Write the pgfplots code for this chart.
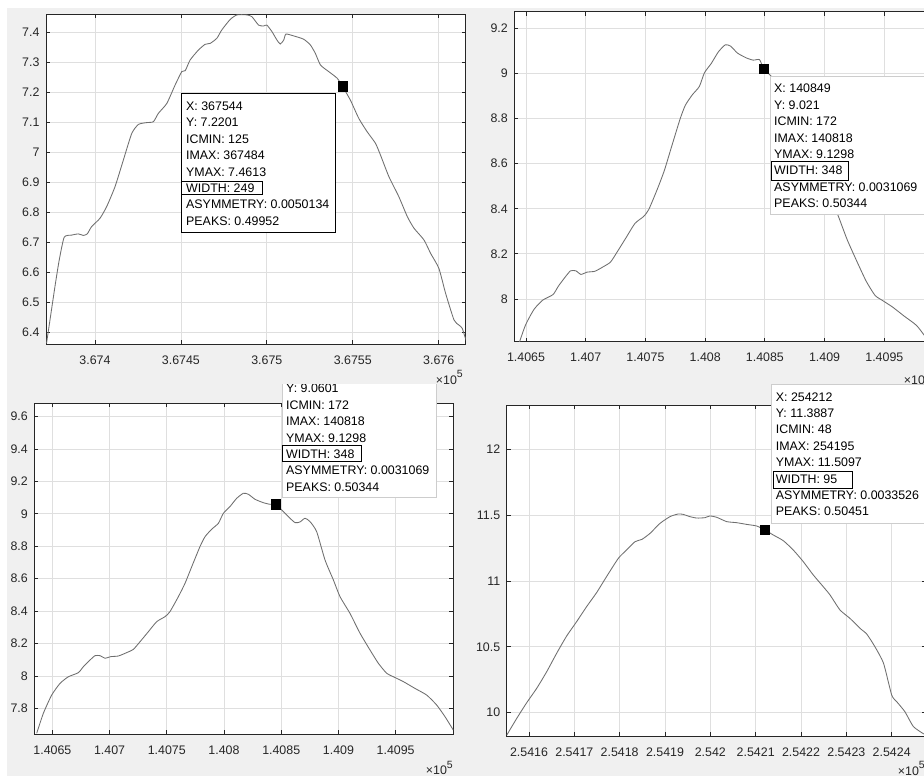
\documentclass[border=0pt]{standalone}
\usepackage{fontspec}
\setmainfont{Liberation Sans}
\usepackage{pgfplots}
\pgfplotsset{compat=1.18}
\definecolor{bgc}{RGB}{240,240,240}
\definecolor{axc}{RGB}{38,38,38}
\definecolor{grc}{RGB}{223,223,223}
\definecolor{lnc}{RGB}{110,110,110}
\definecolor{tipb}{RGB}{205,205,205}
\newcommand\ticfont{\fontsize{12.4}{14}\selectfont}
\newcommand\expo{×10\raisebox{6.5pt}{\fontsize{10.5}{10.5}\selectfont 5}}
\pgfplotsset{mat/.style={scale only axis, anchor=north west,
  axis background/.style={fill=white},
  axis line style={draw=axc, line width=0.8pt},
  grid=major, major grid style={draw=grc, line width=0.8pt},
  tick align=inside, major tick length=4pt,
  every tick/.style={draw=axc, line width=0.8pt},
  tick label style={font=\ticfont, text=axc},
  xticklabel style={yshift=-8pt}, yticklabel style={xshift=-3pt},
  scaled x ticks=false, scaled y ticks=false,
  /pgf/number format/assume math mode=true,
  clip=true},
  crv/.style={draw=lnc, line width=0.85pt, no marks, smooth, tension=0.35},
  tipm/.style={only marks, mark=square*, mark size=4.6pt, mark options={fill=black, draw=black}}}
\tikzset{tip/.style={anchor=base west, inner sep=0pt, font=\ticfont, text=black}}
\newcommand\tipbox[9]{%
  \node[tip] at (#1pt,-#2pt) {#3};
  \node[tip] at (#1pt,-#2pt-16.4pt) {#4};
  \node[tip] at (#1pt,-#2pt-32.8pt) {#5};
  \node[tip] at (#1pt,-#2pt-49.2pt) {#6};
  \node[tip] at (#1pt,-#2pt-65.6pt) {#7};
  \node[tip] at (#1pt,-#2pt-82pt) {#8};
  \node[tip] at (#1pt,-#2pt-98.4pt) {#9};}
\begin{document}
\begin{tikzpicture}
\useasboundingbox (0pt,0pt) rectangle (924pt,-776pt);
\clip (0pt,0pt) rectangle (924pt,-776pt);
\fill[white] (0pt,0pt) rectangle (924pt,-776pt);
\fill[bgc] (7pt,-8pt) rectangle (924pt,-776pt);

% ---------------- panel 1 ----------------
\begin{axis}[mat, at={(46pt,-14pt)}, width=419.7pt, height=330pt,
  xmin=367371.5, xmax=367615.7, ymin=6.361, ymax=7.461,
  xtick={367400,367450,367500,367550,367600},
  xticklabels={3.674,3.6745,3.675,3.6755,3.676},
  ytick={6.4,6.5,6.6,6.7,6.8,6.9,7,7.1,7.2,7.3,7.4},
  yticklabels={6.4,6.5,6.6,6.7,6.8,6.9,7,7.1,7.2,7.3,7.4}]
\addplot[crv] coordinates {
(367371.8,6.363)(367376.7,6.552)(367379.2,6.641)(367382.1,6.717)(367386.4,6.724)
(367390.3,6.728)(367393.2,6.723)(367395.5,6.728)(367398,6.752)(367402.9,6.780)
(367406.8,6.819)(367411.7,6.886)(367416.5,6.974)(367421.4,7.063)(367425.3,7.093)
(367430.1,7.099)(367434,7.102)(367436.9,7.130)(367441.8,7.163)(367446.6,7.224)
(367450.5,7.269)(367452.5,7.272)(367455.4,7.308)(367460.2,7.341)(367464.1,7.360)
(367467,7.363)(367470.9,7.380)(367473.8,7.408)(367478.7,7.443)(367482.6,7.458)
(367488.4,7.458)(367491.3,7.452)(367495.2,7.424)(367498.1,7.421)(367500,7.424)
(367503,7.402)(367505.9,7.374)(367507.8,7.361)(367509.8,7.374)(367511.1,7.394)
(367515.6,7.388)(367521.4,7.377)(367525.3,7.358)(367528.2,7.330)(367531.2,7.291)
(367536,7.269)(367540.9,7.247)(367544,7.2201)(367548.6,7.174)(367553.5,7.113)
(367558.3,7.069)(367563.2,7.030)(367566.1,6.991)(367571,6.919)(367576.8,6.852)
(367581.7,6.786)(367585.6,6.747)(367591.4,6.708)(367595.3,6.663)(367600.1,6.613)
(367604,6.530)(367608.9,6.441)(367611.8,6.424)(367613.7,6.413)(367616.1,6.369)};
\addplot[tipm] coordinates {(367544,7.2201)};
\end{axis}

% ---------------- panel 2 ----------------
\begin{axis}[mat, at={(514.3pt,-11.7pt)}, width=419pt, height=330pt,
  xmin=140640.2, xmax=140991, ymin=7.8107, ymax=9.2737,
  xtick={140650,140700,140750,140800,140850,140900,140950},
  xticklabels={1.4065,1.407,1.4075,1.408,1.4085,1.409,1.4095},
  ytick={8,8.2,8.4,8.6,8.8,9,9.2},
  yticklabels={8,8.2,8.4,8.6,8.8,9,9.2}]
\addplot[crv] coordinates {
(140636.3,7.646)(140642.1,7.769)(140649.4,7.882)(140656.7,7.954)(140664,7.995)
(140672.7,8.020)(140677.1,8.057)(140682.9,8.098)(140687.3,8.125)(140691.7,8.125)
(140696,8.109)(140701,8.119)(140707.7,8.123)(140715,8.144)(140720.8,8.164)
(140726.6,8.211)(140733.9,8.273)(140741.2,8.335)(140748.5,8.366)(140752.8,8.397)
(140760.1,8.489)(140765.9,8.571)(140771.8,8.674)(140779,8.798)(140783.4,8.859)
(140789.2,8.905)(140795.1,8.942)(140799.4,9.003)(140805.2,9.045)(140811.1,9.096)
(140816.9,9.127)(140821.3,9.121)(140827.1,9.090)(140834.4,9.069)(140840.2,9.059)
(140845.5,9.061)(140849,9.021)(140856.2,8.983)(140862.1,8.946)(140866.4,8.950)
(140870.8,8.973)(140875.2,8.952)(140881,8.890)(140888.3,8.715)(140895.6,8.592)
(140901.4,8.489)(140910.1,8.386)(140918.9,8.263)(140927.6,8.160)(140934.9,8.078)
(140942.2,8.016)(140948,7.995)(140956.7,7.965)(140966.9,7.923)(140977.1,7.882)
(140985.8,7.821)(140993.1,7.749)(141000.4,7.666)};
\addplot[tipm] coordinates {(140849,9.021)};
\end{axis}

% ---------------- panel 3 ----------------
\begin{axis}[mat, at={(34.3pt,-403.3pt)}, width=419pt, height=330.7pt,
  xmin=140634.2, xmax=141000.4, ymin=7.6416, ymax=9.6823,
  xtick={140650,140700,140750,140800,140850,140900,140950},
  xticklabels={1.4065,1.407,1.4075,1.408,1.4085,1.409,1.4095},
  ytick={7.8,8,8.2,8.4,8.6,8.8,9,9.2,9.4,9.6},
  yticklabels={7.8,8,8.2,8.4,8.6,8.8,9,9.2,9.4,9.6}]
\addplot[crv] coordinates {
(140636.3,7.646)(140642.1,7.769)(140649.4,7.882)(140656.7,7.954)(140664,7.995)
(140672.7,8.020)(140677.1,8.057)(140682.9,8.098)(140687.3,8.125)(140691.7,8.125)
(140696,8.109)(140701,8.119)(140707.7,8.123)(140715,8.144)(140720.8,8.164)
(140726.6,8.211)(140733.9,8.273)(140741.2,8.335)(140748.5,8.366)(140752.8,8.397)
(140760.1,8.489)(140765.9,8.571)(140771.8,8.674)(140779,8.798)(140783.4,8.859)
(140789.2,8.905)(140795.1,8.942)(140799.4,9.003)(140805.2,9.045)(140811.1,9.096)
(140816.9,9.127)(140821.3,9.121)(140827.1,9.090)(140834.4,9.069)(140840.2,9.059)
(140845,9.0601)(140850.4,9.024)(140856.2,8.983)(140862.1,8.946)(140866.4,8.950)
(140870.8,8.973)(140875.2,8.952)(140881,8.890)(140888.3,8.715)(140895.6,8.592)
(140901.4,8.489)(140910.1,8.386)(140918.9,8.263)(140927.6,8.160)(140934.9,8.078)
(140942.2,8.016)(140948,7.995)(140956.7,7.965)(140966.9,7.923)(140977.1,7.882)
(140985.8,7.821)(140993.1,7.749)(141000.4,7.666)};
\addplot[tipm] coordinates {(140845,9.0601)};
\end{axis}

% ---------------- panel 4 ----------------
\begin{axis}[mat, at={(506.7pt,-405pt)}, width=419pt, height=331pt,
  xmin=254155.08, xmax=254247.5, ymin=9.8228, ymax=12.3367,
  xtick={254160,254170,254180,254190,254200,254210,254220,254230,254240},
  xticklabels={2.5416,2.5417,2.5418,2.5419,2.542,2.5421,2.5422,2.5423,2.5424},
  ytick={10,10.5,11,11.5,12},
  yticklabels={10,10.5,11,11.5,12}]
\addplot[crv] coordinates {
(254155.1,9.830)(254157.3,9.957)(254159.5,10.076)(254161.7,10.185)(254163.9,10.311)
(254166.1,10.451)(254168.3,10.582)(254170.5,10.691)(254172.7,10.805)(254174.9,10.911)
(254177.1,11.033)(254179.7,11.172)(254181.5,11.235)(254183.4,11.299)(254184.9,11.316)
(254186.7,11.362)(254188.9,11.438)(254191.1,11.489)(254192.9,11.509)(254194,11.506)
(254195.5,11.489)(254197,11.478)(254198.8,11.481)(254199.9,11.494)(254201.4,11.484)
(254203.6,11.451)(254205.8,11.443)(254208,11.430)(254210.2,11.418)(254212,11.3887)
(254213.9,11.349)(254216.1,11.306)(254218.3,11.235)(254220.5,11.147)(254222.7,11.046)
(254224.9,10.957)(254226.4,10.894)(254228.6,10.780)(254230.8,10.716)(254233,10.641)
(254234.5,10.597)(254236.3,10.501)(254238.2,10.375)(254240,10.134)(254241.1,10.084)
(254242.9,10.008)(254244.8,9.894)(254247.1,9.838)};
\addplot[tipm] coordinates {(254212,11.3887)};
\end{axis}

% ---------------- exponent labels ----------------
\node[anchor=base east, inner sep=0pt, font=\ticfont, text=axc] at (463pt,-384pt) {\expo};
\node[anchor=base east, inner sep=0pt, font=\ticfont, text=axc] at (931pt,-384pt) {\expo};
\node[anchor=base east, inner sep=0pt, font=\ticfont, text=axc] at (453pt,-774.5pt) {\expo};
\node[anchor=base east, inner sep=0pt, font=\ticfont, text=axc] at (925pt,-775pt) {\expo};

% ---------------- data tips ----------------
% panel 1
\fill[white, draw=black, line width=0.8pt] (181pt,-93.7pt) rectangle (335.7pt,-232.3pt);
\draw[black, line width=0.8pt] (181pt,-181.7pt) rectangle (262.3pt,-194pt);
\tipbox{186}{110.5}{X: 367544}{Y: 7.2201}{ICMIN: 125}{IMAX: 367484}{YMAX: 7.4613}{WIDTH: 249}{ASYMMETRY: 0.0050134}
\node[tip] at (186pt,-225.2pt) {PEAKS: 0.49952};
% panel 2
\fill[white, draw=tipb, line width=0.8pt] (770.7pt,-76pt) rectangle (960pt,-214pt);
\draw[black, line width=0.8pt] (771.7pt,-161.3pt) rectangle (848.3pt,-180.3pt);
\tipbox{774}{92.8}{X: 140849}{Y: 9.021}{ICMIN: 172}{IMAX: 140818}{YMAX: 9.1298}{WIDTH: 348}{ASYMMETRY: 0.0031069}
\node[tip] at (774pt,-207.6pt) {PEAKS: 0.50344};
% panel 3 (top cut off)
\begin{scope}
\clip (0pt,-384.5pt) rectangle (924pt,-776pt);
\fill[white, draw=tipb, line width=0.8pt] (282pt,-360pt) rectangle (436.7pt,-497.3pt);
\draw[black, line width=0.8pt] (282.7pt,-445pt) rectangle (361.7pt,-461.7pt);
\tipbox{286}{376.4}{X: 140845}{Y: 9.0601}{ICMIN: 172}{IMAX: 140818}{YMAX: 9.1298}{WIDTH: 348}{ASYMMETRY: 0.0031069}
\node[tip] at (286pt,-491.2pt) {PEAKS: 0.50344};
\end{scope}
% panel 4
\fill[white, draw=tipb, line width=0.8pt] (771.7pt,-384.4pt) rectangle (960pt,-523.3pt);
\draw[black, line width=0.8pt] (773.3pt,-471.7pt) rectangle (852.7pt,-488.3pt);
\tipbox{775.7}{401.1}{X: 254212}{Y: 11.3887}{ICMIN: 48}{IMAX: 254195}{YMAX: 11.5097}{WIDTH: 95}{ASYMMETRY: 0.0033526}
\node[tip] at (775.7pt,-515.9pt) {PEAKS: 0.50451};
\end{tikzpicture}
\end{document}
